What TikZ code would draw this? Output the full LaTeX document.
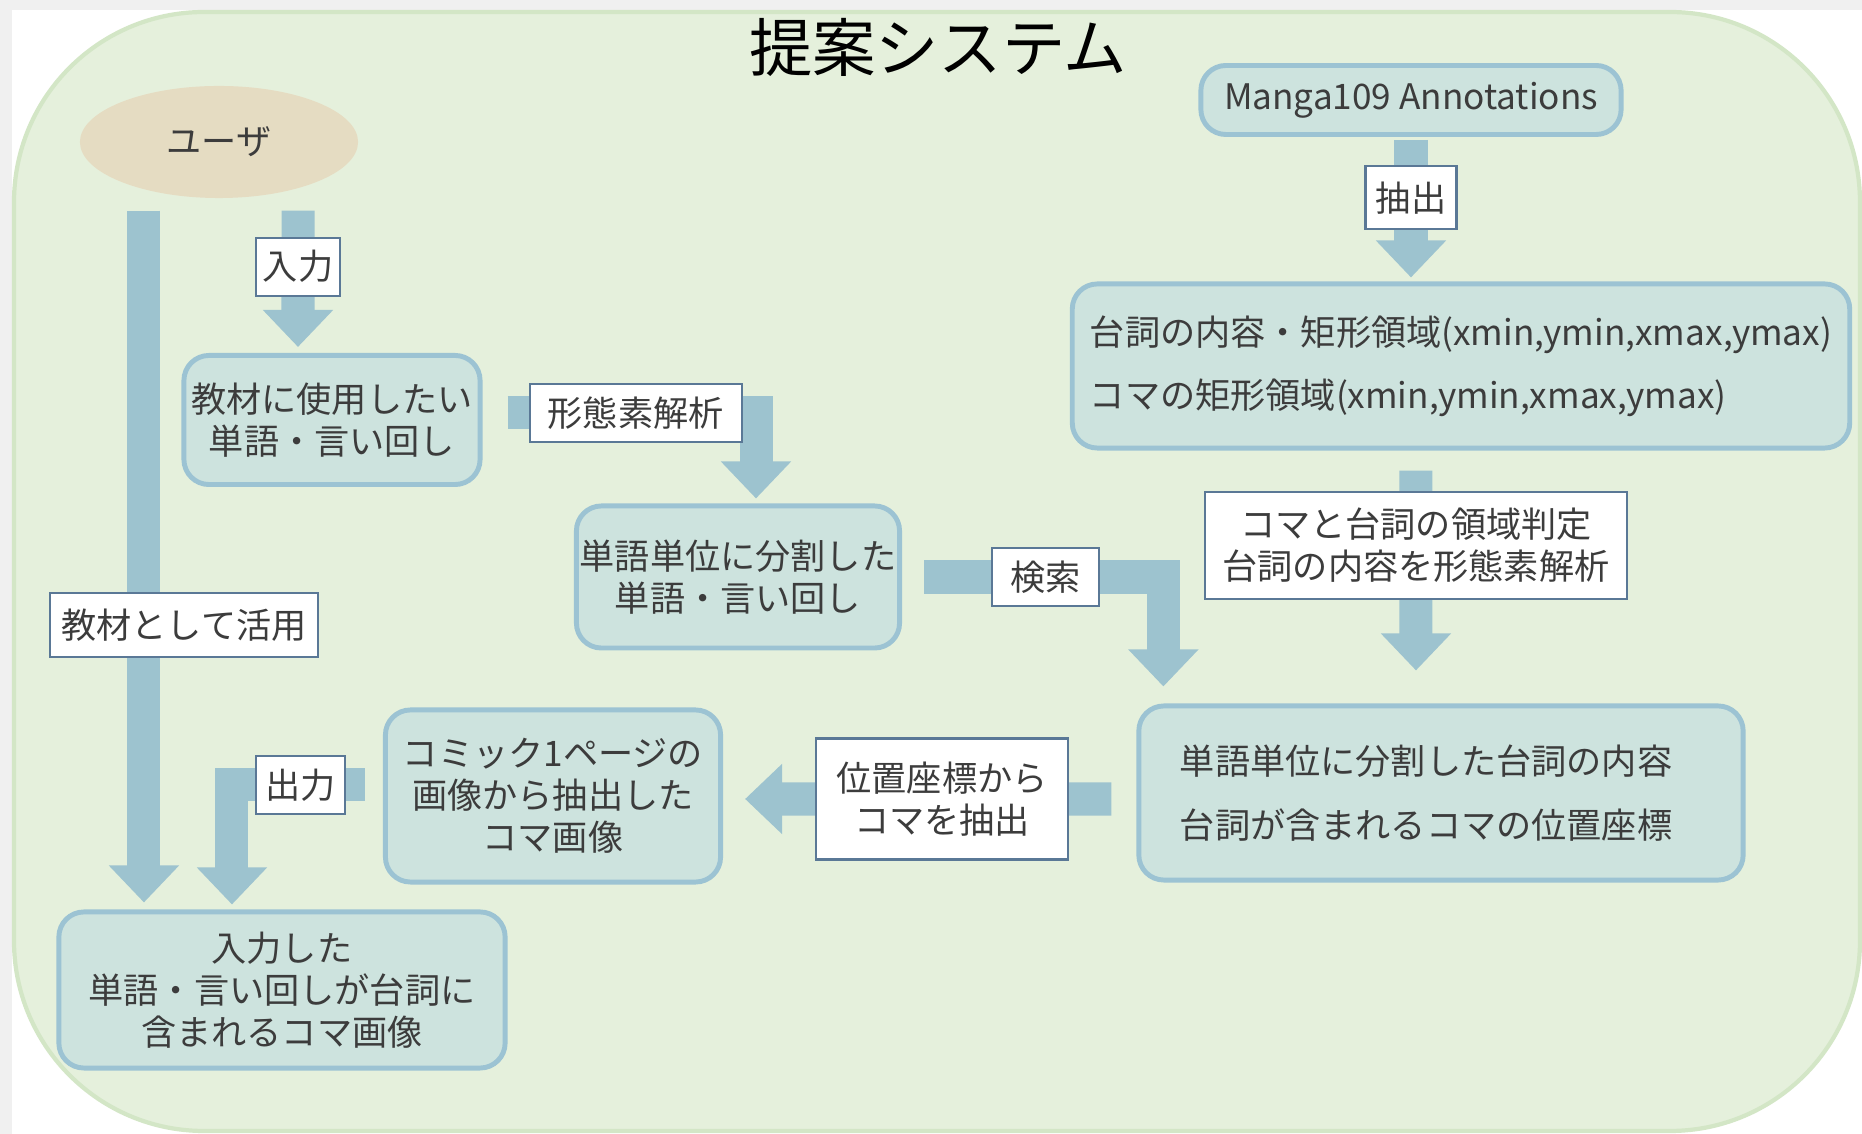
\documentclass[tikz,border=0pt]{standalone}
\usepackage{fontspec}
\setmainfont{Noto Sans CJK JP}
\usepackage{tikz}
\usetikzlibrary{positioning,arrows.meta,shapes.geometric}

\definecolor{bgfill}{HTML}{E5F0DC}
\definecolor{bgline}{HTML}{D3E6C6}
\definecolor{userfill}{HTML}{E5DCC2}
\definecolor{boxfill}{HTML}{CDE3DE}
\definecolor{boxline}{HTML}{9CC3D3}
\definecolor{flowcol}{HTML}{9DC3CF}
\definecolor{lblline}{HTML}{5A7896}
\definecolor{txt}{HTML}{3C3C3C}

\begin{document}
\begin{tikzpicture}[x=0.01cm, y=-0.01cm,
  every node/.style={text=txt, font=\fontsize{10pt}{12pt}\selectfont},
  box/.style={draw=boxline, fill=boxfill, line width=1.4pt, rounded corners=0.25cm, align=center, inner sep=0pt},
  lbl/.style={draw=lblline, fill=white, line width=0.6pt, align=center, inner sep=0pt},
  flow/.style={draw=flowcol, line width=0.33cm, line join=miter, -{Triangle[width=0.68cm, length=0.37cm]}}]

% background
\useasboundingbox (0,0) rectangle (1862,1134);
\fill[white] (0,0) rectangle (1862,1134);
\fill[black!6] (0,0) rectangle (1862,10);
\fill[black!6] (0,0) rectangle (12,1134);
\draw[bgline, fill=bgfill, line width=1.2pt, rounded corners=1.9cm] (14,12) rectangle (1860,1131);

\node[font=\fontsize{18pt}{20pt}\selectfont, text=black] (title) at (938,47) {提案システム};

\node[ellipse, fill=userfill, minimum width=2.78cm, minimum height=1.12cm] (user) at (219,142) {ユーザ};
\node[box, minimum width=2.96cm, minimum height=1.29cm] (want) at (332,420) {教材に使用したい\\単語・言い回し};
\node[box, minimum width=3.23cm, minimum height=1.42cm] (split) at (738,577) {単語単位に分割した\\単語・言い回し};
\node[box, minimum width=4.20cm, minimum height=0.69cm] (manga) at (1411,100) {Manga109 Annotations};
\node[box, minimum width=7.77cm, minimum height=1.64cm, align=left] (anno) at (1461,366) {台詞の内容・矩形領域(xmin,ymin,xmax,ymax)\\[6pt]コマの矩形領域(xmin,ymin,xmax,ymax)};
\node[box, minimum width=6.04cm, minimum height=1.74cm, text width=5.22cm, align=left] (match) at (1441,793) {単語単位に分割した台詞の内容\\[6pt]台詞が含まれるコマの位置座標};
\node[box, minimum width=3.35cm, minimum height=1.72cm] (panel) at (553,796) {コミック1ページの\\画像から抽出した\\コマ画像};
\node[box, minimum width=4.46cm, minimum height=1.56cm] (result) at (282,990) {入力した\\単語・言い回しが台詞に\\含まれるコマ画像};

\coordinate (useL) at ([xshift=-0.75cm]user.south);

\draw[flow, shorten <=0.12cm, shorten >=0.06cm] ([xshift=0.79cm]user.south) -- node[lbl, pos=0.44, minimum width=0.84cm, minimum height=0.58cm] (input) {入力} ([xshift=-0.34cm]want.north);
\draw[flow, shorten <=0.12cm, shorten >=0.07cm] (useL) -- node[lbl, pos=0.6, xshift=0.4cm, minimum width=2.68cm, minimum height=0.64cm] (use) {教材として活用} (useL |- result.north);
\draw[flow, shorten <=0.25cm, shorten >=0.05cm] ([yshift=0.07cm]want.east) -| node[lbl, pos=0.28, minimum width=2.12cm, minimum height=0.58cm] (morph) {形態素解析} ([xshift=0.18cm]split.north);
\draw[flow, shorten <=0.22cm, shorten >=0.17cm] (split.east) -| node[lbl, pos=0.275, minimum width=1.07cm, minimum height=0.58cm] (search) {検索} ([xshift=0.27cm]match.north west);
\draw[flow, shorten <=0.03cm, shorten >=0.04cm] (manga.south) -- node[lbl, pos=0.42, minimum width=0.91cm, minimum height=0.63cm] (extract) {抽出} (manga.south |- anno.north);
\draw[flow, shorten <=0.2cm, shorten >=0.33cm] ([xshift=-0.45cm]anno.south) -- node[lbl, pos=0.374, minimum width=4.21cm, minimum height=1.07cm] (judge) {コマと台詞の領域判定\\台詞の内容を形態素解析} ([xshift=-0.25cm]match.north);
\draw[flow, shorten <=0.25cm, shorten >=0.22cm] ([yshift=-0.06cm]match.west) -- node[lbl, pos=0.47, minimum width=2.52cm, minimum height=1.21cm] (locate) {位置座標から\\コマを抽出} ([yshift=-0.03cm]panel.east);
\draw[flow, shorten <=0.18cm, shorten >=0.05cm] ([yshift=0.11cm]panel.west) -| node[lbl, pos=0.274, minimum width=0.89cm, minimum height=0.58cm] (output) {出力} ([xshift=-0.5cm]result.north);
\end{tikzpicture}
\end{document}
